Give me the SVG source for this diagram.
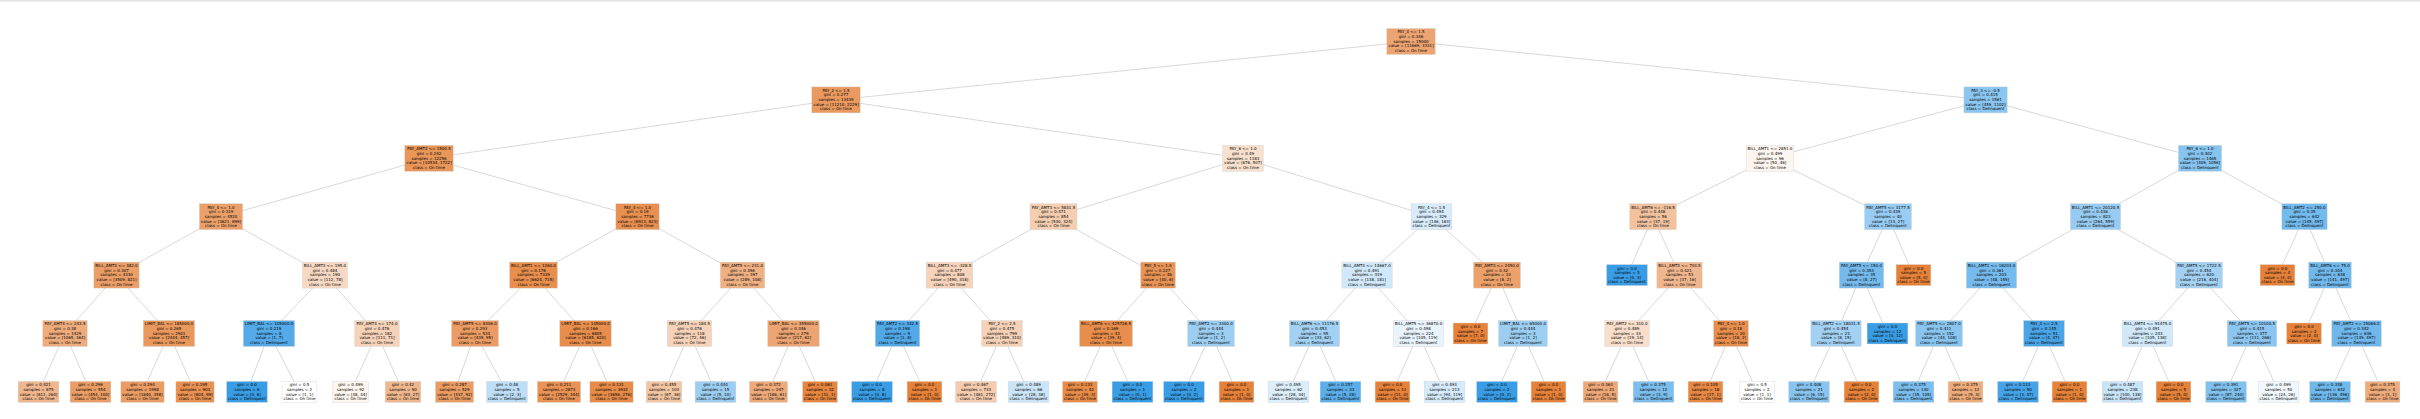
<svg xmlns="http://www.w3.org/2000/svg" width="2420" height="419" viewBox="0 0 2420 419">
<style>
text{font-family:"DejaVu Sans","Liberation Sans",sans-serif;font-size:4px;text-anchor:middle;fill:#000}
.nd rect{stroke:#d4d4d4;stroke-width:0.4}
#connectors line{stroke:#bdbdbd;stroke-width:0.6;fill:none}
</style>
<rect x="0" y="0" width="2420" height="419" fill="#ffffff"/>
<rect x="0" y="0" width="2420" height="1.5" fill="#e2e2e2"/>
<g id="connectors">
<line x1="1411" y1="41.5" x2="836" y2="99.9"/>
<line x1="1411" y1="41.5" x2="1985.5" y2="99.9"/>
<line x1="836" y1="99.9" x2="429" y2="158.3"/>
<line x1="836" y1="99.9" x2="1243" y2="158.3"/>
<line x1="1985.5" y1="99.9" x2="1770" y2="158.3"/>
<line x1="1985.5" y1="99.9" x2="2200" y2="158.3"/>
<line x1="429" y1="158.3" x2="221" y2="216.7"/>
<line x1="429" y1="158.3" x2="637.5" y2="216.7"/>
<line x1="1243" y1="158.3" x2="1053.5" y2="216.7"/>
<line x1="1243" y1="158.3" x2="1431.5" y2="216.7"/>
<line x1="1770" y1="158.3" x2="1653" y2="216.7"/>
<line x1="1770" y1="158.3" x2="1888" y2="216.7"/>
<line x1="2200" y1="158.3" x2="2095.5" y2="216.7"/>
<line x1="2200" y1="158.3" x2="2304.5" y2="216.7"/>
<line x1="221" y1="216.7" x2="116.5" y2="275.1"/>
<line x1="221" y1="216.7" x2="325" y2="275.1"/>
<line x1="637.5" y1="216.7" x2="533.5" y2="275.1"/>
<line x1="637.5" y1="216.7" x2="742.5" y2="275.1"/>
<line x1="1053.5" y1="216.7" x2="949.5" y2="275.1"/>
<line x1="1053.5" y1="216.7" x2="1158" y2="275.1"/>
<line x1="1431.5" y1="216.7" x2="1367" y2="275.1"/>
<line x1="1431.5" y1="216.7" x2="1497" y2="275.1"/>
<line x1="1653" y1="216.7" x2="1627" y2="275.1"/>
<line x1="1653" y1="216.7" x2="1679.5" y2="275.1"/>
<line x1="1888" y1="216.7" x2="1861.5" y2="275.1"/>
<line x1="1888" y1="216.7" x2="1913.5" y2="275.1"/>
<line x1="2095.5" y1="216.7" x2="1991.5" y2="275.1"/>
<line x1="2095.5" y1="216.7" x2="2199" y2="275.1"/>
<line x1="2304.5" y1="216.7" x2="2277.5" y2="275.1"/>
<line x1="2304.5" y1="216.7" x2="2330" y2="275.1"/>
<line x1="116.5" y1="275.1" x2="65" y2="333.5"/>
<line x1="116.5" y1="275.1" x2="169" y2="333.5"/>
<line x1="325" y1="275.1" x2="269" y2="333.5"/>
<line x1="325" y1="275.1" x2="377" y2="333.5"/>
<line x1="533.5" y1="275.1" x2="475" y2="333.5"/>
<line x1="533.5" y1="275.1" x2="585.5" y2="333.5"/>
<line x1="742.5" y1="275.1" x2="689.5" y2="333.5"/>
<line x1="742.5" y1="275.1" x2="793.5" y2="333.5"/>
<line x1="949.5" y1="275.1" x2="897.5" y2="333.5"/>
<line x1="949.5" y1="275.1" x2="1002" y2="333.5"/>
<line x1="1158" y1="275.1" x2="1106" y2="333.5"/>
<line x1="1158" y1="275.1" x2="1211" y2="333.5"/>
<line x1="1367" y1="275.1" x2="1314.5" y2="333.5"/>
<line x1="1367" y1="275.1" x2="1418.5" y2="333.5"/>
<line x1="1497" y1="275.1" x2="1470.5" y2="333.5"/>
<line x1="1497" y1="275.1" x2="1523" y2="333.5"/>
<line x1="1679.5" y1="275.1" x2="1627" y2="333.5"/>
<line x1="1679.5" y1="275.1" x2="1731" y2="333.5"/>
<line x1="1861.5" y1="275.1" x2="1836" y2="333.5"/>
<line x1="1861.5" y1="275.1" x2="1887.5" y2="333.5"/>
<line x1="1991.5" y1="275.1" x2="1939" y2="333.5"/>
<line x1="1991.5" y1="275.1" x2="2044" y2="333.5"/>
<line x1="2199" y1="275.1" x2="2147.5" y2="333.5"/>
<line x1="2199" y1="275.1" x2="2252" y2="333.5"/>
<line x1="2330" y1="275.1" x2="2304" y2="333.5"/>
<line x1="2330" y1="275.1" x2="2356.5" y2="333.5"/>
<line x1="65" y1="333.5" x2="38.5" y2="391.9"/>
<line x1="65" y1="333.5" x2="90.5" y2="391.9"/>
<line x1="169" y1="333.5" x2="142.5" y2="391.9"/>
<line x1="169" y1="333.5" x2="195" y2="391.9"/>
<line x1="269" y1="333.5" x2="247" y2="391.9"/>
<line x1="269" y1="333.5" x2="299.5" y2="391.9"/>
<line x1="377" y1="333.5" x2="350.5" y2="391.9"/>
<line x1="377" y1="333.5" x2="403" y2="391.9"/>
<line x1="475" y1="333.5" x2="454.5" y2="391.9"/>
<line x1="475" y1="333.5" x2="507" y2="391.9"/>
<line x1="585.5" y1="333.5" x2="559" y2="391.9"/>
<line x1="585.5" y1="333.5" x2="611.5" y2="391.9"/>
<line x1="689.5" y1="333.5" x2="664" y2="391.9"/>
<line x1="689.5" y1="333.5" x2="715.5" y2="391.9"/>
<line x1="793.5" y1="333.5" x2="768.5" y2="391.9"/>
<line x1="793.5" y1="333.5" x2="820" y2="391.9"/>
<line x1="897.5" y1="333.5" x2="872" y2="391.9"/>
<line x1="897.5" y1="333.5" x2="924.5" y2="391.9"/>
<line x1="1002" y1="333.5" x2="976" y2="391.9"/>
<line x1="1002" y1="333.5" x2="1028.5" y2="391.9"/>
<line x1="1106" y1="333.5" x2="1080" y2="391.9"/>
<line x1="1106" y1="333.5" x2="1132.5" y2="391.9"/>
<line x1="1211" y1="333.5" x2="1184" y2="391.9"/>
<line x1="1211" y1="333.5" x2="1236.5" y2="391.9"/>
<line x1="1314.5" y1="333.5" x2="1288.5" y2="391.9"/>
<line x1="1314.5" y1="333.5" x2="1340.5" y2="391.9"/>
<line x1="1418.5" y1="333.5" x2="1392.5" y2="391.9"/>
<line x1="1418.5" y1="333.5" x2="1444.5" y2="391.9"/>
<line x1="1523" y1="333.5" x2="1497" y2="391.9"/>
<line x1="1523" y1="333.5" x2="1548.5" y2="391.9"/>
<line x1="1627" y1="333.5" x2="1600.5" y2="391.9"/>
<line x1="1627" y1="333.5" x2="1653.5" y2="391.9"/>
<line x1="1731" y1="333.5" x2="1705.5" y2="391.9"/>
<line x1="1731" y1="333.5" x2="1757" y2="391.9"/>
<line x1="1836" y1="333.5" x2="1809" y2="391.9"/>
<line x1="1836" y1="333.5" x2="1861.5" y2="391.9"/>
<line x1="1939" y1="333.5" x2="1913.5" y2="391.9"/>
<line x1="1939" y1="333.5" x2="1965.5" y2="391.9"/>
<line x1="2044" y1="333.5" x2="2018" y2="391.9"/>
<line x1="2044" y1="333.5" x2="2069.5" y2="391.9"/>
<line x1="2147.5" y1="333.5" x2="2122.5" y2="391.9"/>
<line x1="2147.5" y1="333.5" x2="2173.5" y2="391.9"/>
<line x1="2252" y1="333.5" x2="2226" y2="391.9"/>
<line x1="2252" y1="333.5" x2="2278.5" y2="391.9"/>
<line x1="2356.5" y1="333.5" x2="2330" y2="391.9"/>
<line x1="2356.5" y1="333.5" x2="2382.5" y2="391.9"/>
</g>
<g id="n0" class="nd"><rect x="1386.8" y="28.5" width="48.4" height="26" fill="#eca572"/><text y="33.4"><tspan x="1411">PAY_0 &lt;= 1.5</tspan><tspan x="1411" dy="4.66">gini = 0.346</tspan><tspan x="1411" dy="4.66">samples = 15000</tspan><tspan x="1411" dy="4.66">value = [11669, 3331]</tspan><tspan x="1411" dy="4.66">class = On time</tspan></text></g>
<g id="n1" class="nd"><rect x="811.8" y="86.9" width="48.4" height="26" fill="#ea9a60"/><text y="91.8"><tspan x="836">PAY_2 &lt;= 1.5</tspan><tspan x="836" dy="4.66">gini = 0.277</tspan><tspan x="836" dy="4.66">samples = 13439</tspan><tspan x="836" dy="4.66">value = [11210, 2229]</tspan><tspan x="836" dy="4.66">class = On time</tspan></text></g>
<g id="n2" class="nd"><rect x="1963.9" y="86.9" width="43.3" height="26" fill="#8bc6f0"/><text y="91.8"><tspan x="1985.5">PAY_3 &lt;= -0.5</tspan><tspan x="1985.5" dy="4.66">gini = 0.415</tspan><tspan x="1985.5" dy="4.66">samples = 1561</tspan><tspan x="1985.5" dy="4.66">value = [459, 1102]</tspan><tspan x="1985.5" dy="4.66">class = Delinquent</tspan></text></g>
<g id="n3" class="nd"><rect x="404.8" y="145.3" width="48.4" height="26" fill="#e99659"/><text y="150.2"><tspan x="429">PAY_AMT2 &lt;= 1500.5</tspan><tspan x="429" dy="4.66">gini = 0.242</tspan><tspan x="429" dy="4.66">samples = 12256</tspan><tspan x="429" dy="4.66">value = [10534, 1722]</tspan><tspan x="429" dy="4.66">class = On time</tspan></text></g>
<g id="n4" class="nd"><rect x="1222.6" y="145.3" width="40.8" height="26" fill="#f8e0ce"/><text y="150.2"><tspan x="1243">PAY_6 &lt;= 1.0</tspan><tspan x="1243" dy="4.66">gini = 0.49</tspan><tspan x="1243" dy="4.66">samples = 1183</tspan><tspan x="1243" dy="4.66">value = [676, 507]</tspan><tspan x="1243" dy="4.66">class = On time</tspan></text></g>
<g id="n5" class="nd"><rect x="1746.1" y="145.3" width="47.8" height="26" fill="#fdf5ef"/><text y="150.2"><tspan x="1770">BILL_AMT1 &lt;= 2851.0</tspan><tspan x="1770" dy="4.66">gini = 0.499</tspan><tspan x="1770" dy="4.66">samples = 96</tspan><tspan x="1770" dy="4.66">value = [50, 46]</tspan><tspan x="1770" dy="4.66">class = On time</tspan></text></g>
<g id="n6" class="nd"><rect x="2178.4" y="145.3" width="43.3" height="26" fill="#86c3ef"/><text y="150.2"><tspan x="2200">PAY_6 &lt;= 1.0</tspan><tspan x="2200" dy="4.66">gini = 0.402</tspan><tspan x="2200" dy="4.66">samples = 1465</tspan><tspan x="2200" dy="4.66">value = [409, 1056]</tspan><tspan x="2200" dy="4.66">class = Delinquent</tspan></text></g>
<g id="n7" class="nd"><rect x="199.35" y="203.7" width="43.3" height="26" fill="#eba06a"/><text y="208.6"><tspan x="221">PAY_4 &lt;= 1.0</tspan><tspan x="221" dy="4.66">gini = 0.319</tspan><tspan x="221" dy="4.66">samples = 4520</tspan><tspan x="221" dy="4.66">value = [3621, 899]</tspan><tspan x="221" dy="4.66">class = On time</tspan></text></g>
<g id="n8" class="nd"><rect x="615.85" y="203.7" width="43.3" height="26" fill="#e89051"/><text y="208.6"><tspan x="637.5">PAY_4 &lt;= 1.0</tspan><tspan x="637.5" dy="4.66">gini = 0.19</tspan><tspan x="637.5" dy="4.66">samples = 7736</tspan><tspan x="637.5" dy="4.66">value = [6913, 823]</tspan><tspan x="637.5" dy="4.66">class = On time</tspan></text></g>
<g id="n9" class="nd"><rect x="1030" y="203.7" width="47" height="26" fill="#f5ceb2"/><text y="208.6"><tspan x="1053.5">PAY_AMT3 &lt;= 5831.5</tspan><tspan x="1053.5" dy="4.66">gini = 0.471</tspan><tspan x="1053.5" dy="4.66">samples = 854</tspan><tspan x="1053.5" dy="4.66">value = [530, 324]</tspan><tspan x="1053.5" dy="4.66">class = On time</tspan></text></g>
<g id="n10" class="nd"><rect x="1411.1" y="203.7" width="40.8" height="26" fill="#d7ebfa"/><text y="208.6"><tspan x="1431.5">PAY_4 &lt;= 1.5</tspan><tspan x="1431.5" dy="4.66">gini = 0.494</tspan><tspan x="1431.5" dy="4.66">samples = 329</tspan><tspan x="1431.5" dy="4.66">value = [146, 183]</tspan><tspan x="1431.5" dy="4.66">class = Delinquent</tspan></text></g>
<g id="n11" class="nd"><rect x="1629.65" y="203.7" width="46.7" height="26" fill="#f2c29f"/><text y="208.6"><tspan x="1653">BILL_AMT6 &lt;= -116.5</tspan><tspan x="1653" dy="4.66">gini = 0.448</tspan><tspan x="1653" dy="4.66">samples = 56</tspan><tspan x="1653" dy="4.66">value = [37, 19]</tspan><tspan x="1653" dy="4.66">class = On time</tspan></text></g>
<g id="n12" class="nd"><rect x="1864.5" y="203.7" width="47" height="26" fill="#98ccf2"/><text y="208.6"><tspan x="1888">PAY_AMT5 &lt;= 3177.5</tspan><tspan x="1888" dy="4.66">gini = 0.439</tspan><tspan x="1888" dy="4.66">samples = 40</tspan><tspan x="1888" dy="4.66">value = [13, 27]</tspan><tspan x="1888" dy="4.66">class = Delinquent</tspan></text></g>
<g id="n13" class="nd"><rect x="2070.35" y="203.7" width="50.3" height="26" fill="#97cbf1"/><text y="208.6"><tspan x="2095.5">BILL_AMT1 &lt;= 20120.5</tspan><tspan x="2095.5" dy="4.66">gini = 0.436</tspan><tspan x="2095.5" dy="4.66">samples = 823</tspan><tspan x="2095.5" dy="4.66">value = [264, 559]</tspan><tspan x="2095.5" dy="4.66">class = Delinquent</tspan></text></g>
<g id="n14" class="nd"><rect x="2281.85" y="203.7" width="45.3" height="26" fill="#73baed"/><text y="208.6"><tspan x="2304.5">BILL_AMT2 &lt;= 250.0</tspan><tspan x="2304.5" dy="4.66">gini = 0.35</tspan><tspan x="2304.5" dy="4.66">samples = 642</tspan><tspan x="2304.5" dy="4.66">value = [145, 497]</tspan><tspan x="2304.5" dy="4.66">class = Delinquent</tspan></text></g>
<g id="n15" class="nd"><rect x="93.85" y="262.1" width="45.3" height="26" fill="#eb9e67"/><text y="267"><tspan x="116.5">BILL_AMT3 &lt;= 482.0</tspan><tspan x="116.5" dy="4.66">gini = 0.307</tspan><tspan x="116.5" dy="4.66">samples = 4330</tspan><tspan x="116.5" dy="4.66">value = [3509, 821]</tspan><tspan x="116.5" dy="4.66">class = On time</tspan></text></g>
<g id="n16" class="nd"><rect x="302.35" y="262.1" width="45.3" height="26" fill="#f7d9c3"/><text y="267"><tspan x="325">BILL_AMT3 &lt;= 195.0</tspan><tspan x="325" dy="4.66">gini = 0.484</tspan><tspan x="325" dy="4.66">samples = 190</tspan><tspan x="325" dy="4.66">value = [112, 78]</tspan><tspan x="325" dy="4.66">class = On time</tspan></text></g>
<g id="n17" class="nd"><rect x="509.6" y="262.1" width="47.8" height="26" fill="#e88f4e"/><text y="267"><tspan x="533.5">BILL_AMT1 &lt;= 1260.0</tspan><tspan x="533.5" dy="4.66">gini = 0.176</tspan><tspan x="533.5" dy="4.66">samples = 7339</tspan><tspan x="533.5" dy="4.66">value = [6624, 715]</tspan><tspan x="533.5" dy="4.66">class = On time</tspan></text></g>
<g id="n18" class="nd"><rect x="720.25" y="262.1" width="44.5" height="26" fill="#efb083"/><text y="267"><tspan x="742.5">PAY_AMT5 &lt;= 231.0</tspan><tspan x="742.5" dy="4.66">gini = 0.396</tspan><tspan x="742.5" dy="4.66">samples = 397</tspan><tspan x="742.5" dy="4.66">value = [289, 108]</tspan><tspan x="742.5" dy="4.66">class = On time</tspan></text></g>
<g id="n19" class="nd"><rect x="926.15" y="262.1" width="46.7" height="26" fill="#f6d3ba"/><text y="267"><tspan x="949.5">BILL_AMT3 &lt;= -328.5</tspan><tspan x="949.5" dy="4.66">gini = 0.477</tspan><tspan x="949.5" dy="4.66">samples = 808</tspan><tspan x="949.5" dy="4.66">value = [490, 318]</tspan><tspan x="949.5" dy="4.66">class = On time</tspan></text></g>
<g id="n20" class="nd"><rect x="1140.6" y="262.1" width="34.8" height="26" fill="#e99457"/><text y="267"><tspan x="1158">PAY_5 &lt;= 1.0</tspan><tspan x="1158" dy="4.66">gini = 0.227</tspan><tspan x="1158" dy="4.66">samples = 46</tspan><tspan x="1158" dy="4.66">value = [40, 6]</tspan><tspan x="1158" dy="4.66">class = On time</tspan></text></g>
<g id="n21" class="nd"><rect x="1341.85" y="262.1" width="50.3" height="26" fill="#d0e8f9"/><text y="267"><tspan x="1367">BILL_AMT3 &lt;= 14667.0</tspan><tspan x="1367" dy="4.66">gini = 0.491</tspan><tspan x="1367" dy="4.66">samples = 319</tspan><tspan x="1367" dy="4.66">value = [138, 181]</tspan><tspan x="1367" dy="4.66">class = Delinquent</tspan></text></g>
<g id="n22" class="nd"><rect x="1473.5" y="262.1" width="47" height="26" fill="#eca06a"/><text y="267"><tspan x="1497">PAY_AMT3 &lt;= 2450.0</tspan><tspan x="1497" dy="4.66">gini = 0.32</tspan><tspan x="1497" dy="4.66">samples = 10</tspan><tspan x="1497" dy="4.66">value = [8, 2]</tspan><tspan x="1497" dy="4.66">class = On time</tspan></text></g>
<g id="n23" class="nd"><rect x="1606.6" y="264.6" width="40.8" height="21" fill="#399de5"/><text y="269.5"><tspan x="1627">gini = 0.0</tspan><tspan x="1627" dy="4.66">samples = 3</tspan><tspan x="1627" dy="4.66">value = [0, 3]</tspan><tspan x="1627" dy="4.66">class = Delinquent</tspan></text></g>
<g id="n24" class="nd"><rect x="1656.85" y="262.1" width="45.3" height="26" fill="#f0b78f"/><text y="267"><tspan x="1679.5">BILL_AMT3 &lt;= 703.5</tspan><tspan x="1679.5" dy="4.66">gini = 0.421</tspan><tspan x="1679.5" dy="4.66">samples = 53</tspan><tspan x="1679.5" dy="4.66">value = [37, 16]</tspan><tspan x="1679.5" dy="4.66">class = On time</tspan></text></g>
<g id="n25" class="nd"><rect x="1839.25" y="262.1" width="44.5" height="26" fill="#74baed"/><text y="267"><tspan x="1861.5">PAY_AMT5 &lt;= 150.0</tspan><tspan x="1861.5" dy="4.66">gini = 0.353</tspan><tspan x="1861.5" dy="4.66">samples = 35</tspan><tspan x="1861.5" dy="4.66">value = [8, 27]</tspan><tspan x="1861.5" dy="4.66">class = Delinquent</tspan></text></g>
<g id="n26" class="nd"><rect x="1896.1" y="264.6" width="34.8" height="21" fill="#e58139"/><text y="269.5"><tspan x="1913.5">gini = 0.0</tspan><tspan x="1913.5" dy="4.66">samples = 5</tspan><tspan x="1913.5" dy="4.66">value = [5, 0]</tspan><tspan x="1913.5" dy="4.66">class = On time</tspan></text></g>
<g id="n27" class="nd"><rect x="1966.35" y="262.1" width="50.3" height="26" fill="#76bbed"/><text y="267"><tspan x="1991.5">BILL_AMT1 &lt;= 18203.0</tspan><tspan x="1991.5" dy="4.66">gini = 0.361</tspan><tspan x="1991.5" dy="4.66">samples = 203</tspan><tspan x="1991.5" dy="4.66">value = [48, 155]</tspan><tspan x="1991.5" dy="4.66">class = Delinquent</tspan></text></g>
<g id="n28" class="nd"><rect x="2175.5" y="262.1" width="47" height="26" fill="#a3d1f3"/><text y="267"><tspan x="2199">PAY_AMT5 &lt;= 1722.5</tspan><tspan x="2199" dy="4.66">gini = 0.454</tspan><tspan x="2199" dy="4.66">samples = 620</tspan><tspan x="2199" dy="4.66">value = [216, 404]</tspan><tspan x="2199" dy="4.66">class = Delinquent</tspan></text></g>
<g id="n29" class="nd"><rect x="2260.1" y="264.6" width="34.8" height="21" fill="#e58139"/><text y="269.5"><tspan x="2277.5">gini = 0.0</tspan><tspan x="2277.5" dy="4.66">samples = 4</tspan><tspan x="2277.5" dy="4.66">value = [4, 0]</tspan><tspan x="2277.5" dy="4.66">class = On time</tspan></text></g>
<g id="n30" class="nd"><rect x="2308.65" y="262.1" width="42.7" height="26" fill="#71b9ec"/><text y="267"><tspan x="2330">BILL_AMT6 &lt;= 75.0</tspan><tspan x="2330" dy="4.66">gini = 0.344</tspan><tspan x="2330" dy="4.66">samples = 638</tspan><tspan x="2330" dy="4.66">value = [141, 497]</tspan><tspan x="2330" dy="4.66">class = Delinquent</tspan></text></g>
<g id="n31" class="nd"><rect x="42.75" y="320.5" width="44.5" height="26" fill="#eeac7d"/><text y="325.4"><tspan x="65">PAY_AMT4 &lt;= 243.5</tspan><tspan x="65" dy="4.66">gini = 0.38</tspan><tspan x="65" dy="4.66">samples = 1429</tspan><tspan x="65" dy="4.66">value = [1065, 364]</tspan><tspan x="65" dy="4.66">class = On time</tspan></text></g>
<g id="n32" class="nd"><rect x="143.25" y="320.5" width="51.5" height="26" fill="#ea995e"/><text y="325.4"><tspan x="169">LIMIT_BAL &lt;= 185000.0</tspan><tspan x="169" dy="4.66">gini = 0.265</tspan><tspan x="169" dy="4.66">samples = 2901</tspan><tspan x="169" dy="4.66">value = [2444, 457]</tspan><tspan x="169" dy="4.66">class = On time</tspan></text></g>
<g id="n33" class="nd"><rect x="243.25" y="320.5" width="51.5" height="26" fill="#55abe9"/><text y="325.4"><tspan x="269">LIMIT_BAL &lt;= 105000.0</tspan><tspan x="269" dy="4.66">gini = 0.219</tspan><tspan x="269" dy="4.66">samples = 8</tspan><tspan x="269" dy="4.66">value = [1, 7]</tspan><tspan x="269" dy="4.66">class = Delinquent</tspan></text></g>
<g id="n34" class="nd"><rect x="354.75" y="320.5" width="44.5" height="26" fill="#f6d2b8"/><text y="325.4"><tspan x="377">PAY_AMT4 &lt;= 174.0</tspan><tspan x="377" dy="4.66">gini = 0.476</tspan><tspan x="377" dy="4.66">samples = 182</tspan><tspan x="377" dy="4.66">value = [111, 71]</tspan><tspan x="377" dy="4.66">class = On time</tspan></text></g>
<g id="n35" class="nd"><rect x="451.5" y="320.5" width="47" height="26" fill="#eb9c64"/><text y="325.4"><tspan x="475">PAY_AMT5 &lt;= 8306.0</tspan><tspan x="475" dy="4.66">gini = 0.293</tspan><tspan x="475" dy="4.66">samples = 534</tspan><tspan x="475" dy="4.66">value = [439, 95]</tspan><tspan x="475" dy="4.66">class = On time</tspan></text></g>
<g id="n36" class="nd"><rect x="559.75" y="320.5" width="51.5" height="26" fill="#e88e4d"/><text y="325.4"><tspan x="585.5">LIMIT_BAL &lt;= 145000.0</tspan><tspan x="585.5" dy="4.66">gini = 0.166</tspan><tspan x="585.5" dy="4.66">samples = 6805</tspan><tspan x="585.5" dy="4.66">value = [6185, 620]</tspan><tspan x="585.5" dy="4.66">class = On time</tspan></text></g>
<g id="n37" class="nd"><rect x="667.25" y="320.5" width="44.5" height="26" fill="#f6d2b8"/><text y="325.4"><tspan x="689.5">PAY_AMT5 &lt;= 184.5</tspan><tspan x="689.5" dy="4.66">gini = 0.476</tspan><tspan x="689.5" dy="4.66">samples = 118</tspan><tspan x="689.5" dy="4.66">value = [72, 46]</tspan><tspan x="689.5" dy="4.66">class = On time</tspan></text></g>
<g id="n38" class="nd"><rect x="767.75" y="320.5" width="51.5" height="26" fill="#eca572"/><text y="325.4"><tspan x="793.5">LIMIT_BAL &lt;= 355000.0</tspan><tspan x="793.5" dy="4.66">gini = 0.346</tspan><tspan x="793.5" dy="4.66">samples = 279</tspan><tspan x="793.5" dy="4.66">value = [217, 62]</tspan><tspan x="793.5" dy="4.66">class = On time</tspan></text></g>
<g id="n39" class="nd"><rect x="875.25" y="320.5" width="44.5" height="26" fill="#52a9e8"/><text y="325.4"><tspan x="897.5">PAY_AMT2 &lt;= 332.5</tspan><tspan x="897.5" dy="4.66">gini = 0.198</tspan><tspan x="897.5" dy="4.66">samples = 9</tspan><tspan x="897.5" dy="4.66">value = [1, 8]</tspan><tspan x="897.5" dy="4.66">class = Delinquent</tspan></text></g>
<g id="n40" class="nd"><rect x="981.6" y="320.5" width="40.8" height="26" fill="#f5d1b7"/><text y="325.4"><tspan x="1002">PAY_2 &lt;= 2.5</tspan><tspan x="1002" dy="4.66">gini = 0.475</tspan><tspan x="1002" dy="4.66">samples = 799</tspan><tspan x="1002" dy="4.66">value = [489, 310]</tspan><tspan x="1002" dy="4.66">class = On time</tspan></text></g>
<g id="n41" class="nd"><rect x="1079.55" y="320.5" width="52.9" height="26" fill="#e88e4d"/><text y="325.4"><tspan x="1106">BILL_AMT6 &lt;= 425726.5</tspan><tspan x="1106" dy="4.66">gini = 0.169</tspan><tspan x="1106" dy="4.66">samples = 43</tspan><tspan x="1106" dy="4.66">value = [39, 4]</tspan><tspan x="1106" dy="4.66">class = On time</tspan></text></g>
<g id="n42" class="nd"><rect x="1187.5" y="320.5" width="47" height="26" fill="#9ccef2"/><text y="325.4"><tspan x="1211">PAY_AMT2 &lt;= 3300.0</tspan><tspan x="1211" dy="4.66">gini = 0.444</tspan><tspan x="1211" dy="4.66">samples = 3</tspan><tspan x="1211" dy="4.66">value = [1, 2]</tspan><tspan x="1211" dy="4.66">class = Delinquent</tspan></text></g>
<g id="n43" class="nd"><rect x="1289.35" y="320.5" width="50.3" height="26" fill="#a2d1f3"/><text y="325.4"><tspan x="1314.5">BILL_AMT6 &lt;= 11176.5</tspan><tspan x="1314.5" dy="4.66">gini = 0.453</tspan><tspan x="1314.5" dy="4.66">samples = 95</tspan><tspan x="1314.5" dy="4.66">value = [33, 62]</tspan><tspan x="1314.5" dy="4.66">class = Delinquent</tspan></text></g>
<g id="n44" class="nd"><rect x="1393.35" y="320.5" width="50.3" height="26" fill="#e8f3fc"/><text y="325.4"><tspan x="1418.5">BILL_AMT5 &lt;= 36870.0</tspan><tspan x="1418.5" dy="4.66">gini = 0.498</tspan><tspan x="1418.5" dy="4.66">samples = 224</tspan><tspan x="1418.5" dy="4.66">value = [105, 119]</tspan><tspan x="1418.5" dy="4.66">class = Delinquent</tspan></text></g>
<g id="n45" class="nd"><rect x="1453.1" y="323" width="34.8" height="21" fill="#e58139"/><text y="327.9"><tspan x="1470.5">gini = 0.0</tspan><tspan x="1470.5" dy="4.66">samples = 7</tspan><tspan x="1470.5" dy="4.66">value = [7, 0]</tspan><tspan x="1470.5" dy="4.66">class = On time</tspan></text></g>
<g id="n46" class="nd"><rect x="1498.5" y="320.5" width="49" height="26" fill="#9ccef2"/><text y="325.4"><tspan x="1523">LIMIT_BAL &lt;= 65000.0</tspan><tspan x="1523" dy="4.66">gini = 0.444</tspan><tspan x="1523" dy="4.66">samples = 3</tspan><tspan x="1523" dy="4.66">value = [1, 2]</tspan><tspan x="1523" dy="4.66">class = Delinquent</tspan></text></g>
<g id="n47" class="nd"><rect x="1604.75" y="320.5" width="44.5" height="26" fill="#f8decb"/><text y="325.4"><tspan x="1627">PAY_AMT2 &lt;= 310.0</tspan><tspan x="1627" dy="4.66">gini = 0.489</tspan><tspan x="1627" dy="4.66">samples = 33</tspan><tspan x="1627" dy="4.66">value = [19, 14]</tspan><tspan x="1627" dy="4.66">class = On time</tspan></text></g>
<g id="n48" class="nd"><rect x="1713.6" y="320.5" width="34.8" height="26" fill="#e88f4f"/><text y="325.4"><tspan x="1731">PAY_4 &lt;= 1.0</tspan><tspan x="1731" dy="4.66">gini = 0.18</tspan><tspan x="1731" dy="4.66">samples = 20</tspan><tspan x="1731" dy="4.66">value = [18, 2]</tspan><tspan x="1731" dy="4.66">class = On time</tspan></text></g>
<g id="n49" class="nd"><rect x="1810.85" y="320.5" width="50.3" height="26" fill="#a3d1f3"/><text y="325.4"><tspan x="1836">BILL_AMT2 &lt;= 18031.5</tspan><tspan x="1836" dy="4.66">gini = 0.454</tspan><tspan x="1836" dy="4.66">samples = 23</tspan><tspan x="1836" dy="4.66">value = [8, 15]</tspan><tspan x="1836" dy="4.66">class = Delinquent</tspan></text></g>
<g id="n50" class="nd"><rect x="1867.1" y="323" width="40.8" height="21" fill="#399de5"/><text y="327.9"><tspan x="1887.5">gini = 0.0</tspan><tspan x="1887.5" dy="4.66">samples = 12</tspan><tspan x="1887.5" dy="4.66">value = [0, 12]</tspan><tspan x="1887.5" dy="4.66">class = Delinquent</tspan></text></g>
<g id="n51" class="nd"><rect x="1915.5" y="320.5" width="47" height="26" fill="#8ac5f0"/><text y="325.4"><tspan x="1939">PAY_AMT5 &lt;= 2807.0</tspan><tspan x="1939" dy="4.66">gini = 0.411</tspan><tspan x="1939" dy="4.66">samples = 152</tspan><tspan x="1939" dy="4.66">value = [44, 108]</tspan><tspan x="1939" dy="4.66">class = Delinquent</tspan></text></g>
<g id="n52" class="nd"><rect x="2023.6" y="320.5" width="40.8" height="26" fill="#4aa5e7"/><text y="325.4"><tspan x="2044">PAY_3 &lt;= 2.5</tspan><tspan x="2044" dy="4.66">gini = 0.145</tspan><tspan x="2044" dy="4.66">samples = 51</tspan><tspan x="2044" dy="4.66">value = [4, 47]</tspan><tspan x="2044" dy="4.66">class = Delinquent</tspan></text></g>
<g id="n53" class="nd"><rect x="2122.35" y="320.5" width="50.3" height="26" fill="#d0e8f9"/><text y="325.4"><tspan x="2147.5">BILL_AMT4 &lt;= 91475.0</tspan><tspan x="2147.5" dy="4.66">gini = 0.491</tspan><tspan x="2147.5" dy="4.66">samples = 243</tspan><tspan x="2147.5" dy="4.66">value = [105, 138]</tspan><tspan x="2147.5" dy="4.66">class = Delinquent</tspan></text></g>
<g id="n54" class="nd"><rect x="2227.2" y="320.5" width="49.6" height="26" fill="#8cc6f0"/><text y="325.4"><tspan x="2252">PAY_AMT5 &lt;= 10100.5</tspan><tspan x="2252" dy="4.66">gini = 0.415</tspan><tspan x="2252" dy="4.66">samples = 377</tspan><tspan x="2252" dy="4.66">value = [111, 266]</tspan><tspan x="2252" dy="4.66">class = Delinquent</tspan></text></g>
<g id="n55" class="nd"><rect x="2286.6" y="323" width="34.8" height="21" fill="#e58139"/><text y="327.9"><tspan x="2304">gini = 0.0</tspan><tspan x="2304" dy="4.66">samples = 2</tspan><tspan x="2304" dy="4.66">value = [2, 0]</tspan><tspan x="2304" dy="4.66">class = On time</tspan></text></g>
<g id="n56" class="nd"><rect x="2331.7" y="320.5" width="49.6" height="26" fill="#70b8ec"/><text y="325.4"><tspan x="2356.5">PAY_AMT2 &lt;= 15066.0</tspan><tspan x="2356.5" dy="4.66">gini = 0.342</tspan><tspan x="2356.5" dy="4.66">samples = 636</tspan><tspan x="2356.5" dy="4.66">value = [139, 497]</tspan><tspan x="2356.5" dy="4.66">class = Delinquent</tspan></text></g>
<g id="l1" class="nd"><rect x="18.1" y="381.4" width="40.8" height="21" fill="#f0b78f"/><text y="386.3"><tspan x="38.5">gini = 0.421</tspan><tspan x="38.5" dy="4.66">samples = 875</tspan><tspan x="38.5" dy="4.66">value = [611, 264]</tspan><tspan x="38.5" dy="4.66">class = On time</tspan></text></g>
<g id="l2" class="nd"><rect x="70.1" y="381.4" width="40.8" height="21" fill="#eb9d65"/><text y="386.3"><tspan x="90.5">gini = 0.296</tspan><tspan x="90.5" dy="4.66">samples = 554</tspan><tspan x="90.5" dy="4.66">value = [454, 100]</tspan><tspan x="90.5" dy="4.66">class = On time</tspan></text></g>
<g id="l3" class="nd"><rect x="120.85" y="381.4" width="43.3" height="21" fill="#eb9c64"/><text y="386.3"><tspan x="142.5">gini = 0.294</tspan><tspan x="142.5" dy="4.66">samples = 1998</tspan><tspan x="142.5" dy="4.66">value = [1640, 358]</tspan><tspan x="142.5" dy="4.66">class = On time</tspan></text></g>
<g id="l4" class="nd"><rect x="175.9" y="381.4" width="38.2" height="21" fill="#e89151"/><text y="386.3"><tspan x="195">gini = 0.195</tspan><tspan x="195" dy="4.66">samples = 903</tspan><tspan x="195" dy="4.66">value = [804, 99]</tspan><tspan x="195" dy="4.66">class = On time</tspan></text></g>
<g id="l5" class="nd"><rect x="226.6" y="381.4" width="40.8" height="21" fill="#399de5"/><text y="386.3"><tspan x="247">gini = 0.0</tspan><tspan x="247" dy="4.66">samples = 6</tspan><tspan x="247" dy="4.66">value = [0, 6]</tspan><tspan x="247" dy="4.66">class = Delinquent</tspan></text></g>
<g id="l6" class="nd"><rect x="282.1" y="381.4" width="34.8" height="21" fill="#ffffff"/><text y="386.3"><tspan x="299.5">gini = 0.5</tspan><tspan x="299.5" dy="4.66">samples = 2</tspan><tspan x="299.5" dy="4.66">value = [1, 1]</tspan><tspan x="299.5" dy="4.66">class = On time</tspan></text></g>
<g id="l7" class="nd"><rect x="332.65" y="381.4" width="35.7" height="21" fill="#fdf5ee"/><text y="386.3"><tspan x="350.5">gini = 0.499</tspan><tspan x="350.5" dy="4.66">samples = 92</tspan><tspan x="350.5" dy="4.66">value = [48, 44]</tspan><tspan x="350.5" dy="4.66">class = On time</tspan></text></g>
<g id="l8" class="nd"><rect x="385.15" y="381.4" width="35.7" height="21" fill="#f0b78e"/><text y="386.3"><tspan x="403">gini = 0.42</tspan><tspan x="403" dy="4.66">samples = 90</tspan><tspan x="403" dy="4.66">value = [63, 27]</tspan><tspan x="403" dy="4.66">class = On time</tspan></text></g>
<g id="l9" class="nd"><rect x="435.4" y="381.4" width="38.2" height="21" fill="#ea9c63"/><text y="386.3"><tspan x="454.5">gini = 0.287</tspan><tspan x="454.5" dy="4.66">samples = 529</tspan><tspan x="454.5" dy="4.66">value = [437, 92]</tspan><tspan x="454.5" dy="4.66">class = On time</tspan></text></g>
<g id="l10" class="nd"><rect x="486.6" y="381.4" width="40.8" height="21" fill="#bddef6"/><text y="386.3"><tspan x="507">gini = 0.48</tspan><tspan x="507" dy="4.66">samples = 5</tspan><tspan x="507" dy="4.66">value = [2, 3]</tspan><tspan x="507" dy="4.66">class = Delinquent</tspan></text></g>
<g id="l11" class="nd"><rect x="537.35" y="381.4" width="43.3" height="21" fill="#e99254"/><text y="386.3"><tspan x="559">gini = 0.211</tspan><tspan x="559" dy="4.66">samples = 2873</tspan><tspan x="559" dy="4.66">value = [2529, 344]</tspan><tspan x="559" dy="4.66">class = On time</tspan></text></g>
<g id="l12" class="nd"><rect x="589.85" y="381.4" width="43.3" height="21" fill="#e78b48"/><text y="386.3"><tspan x="611.5">gini = 0.131</tspan><tspan x="611.5" dy="4.66">samples = 3932</tspan><tspan x="611.5" dy="4.66">value = [3656, 276]</tspan><tspan x="611.5" dy="4.66">class = On time</tspan></text></g>
<g id="l13" class="nd"><rect x="646.15" y="381.4" width="35.7" height="21" fill="#f3c5a3"/><text y="386.3"><tspan x="664">gini = 0.455</tspan><tspan x="664" dy="4.66">samples = 103</tspan><tspan x="664" dy="4.66">value = [67, 36]</tspan><tspan x="664" dy="4.66">class = On time</tspan></text></g>
<g id="l14" class="nd"><rect x="695.1" y="381.4" width="40.8" height="21" fill="#9ccef2"/><text y="386.3"><tspan x="715.5">gini = 0.444</tspan><tspan x="715.5" dy="4.66">samples = 15</tspan><tspan x="715.5" dy="4.66">value = [5, 10]</tspan><tspan x="715.5" dy="4.66">class = Delinquent</tspan></text></g>
<g id="l15" class="nd"><rect x="749.4" y="381.4" width="38.2" height="21" fill="#eeaa7a"/><text y="386.3"><tspan x="768.5">gini = 0.372</tspan><tspan x="768.5" dy="4.66">samples = 247</tspan><tspan x="768.5" dy="4.66">value = [186, 61]</tspan><tspan x="768.5" dy="4.66">class = On time</tspan></text></g>
<g id="l16" class="nd"><rect x="802.6" y="381.4" width="34.8" height="21" fill="#e6853f"/><text y="386.3"><tspan x="820">gini = 0.061</tspan><tspan x="820" dy="4.66">samples = 32</tspan><tspan x="820" dy="4.66">value = [31, 1]</tspan><tspan x="820" dy="4.66">class = On time</tspan></text></g>
<g id="l17" class="nd"><rect x="851.6" y="381.4" width="40.8" height="21" fill="#399de5"/><text y="386.3"><tspan x="872">gini = 0.0</tspan><tspan x="872" dy="4.66">samples = 8</tspan><tspan x="872" dy="4.66">value = [0, 8]</tspan><tspan x="872" dy="4.66">class = Delinquent</tspan></text></g>
<g id="l18" class="nd"><rect x="907.1" y="381.4" width="34.8" height="21" fill="#e58139"/><text y="386.3"><tspan x="924.5">gini = 0.0</tspan><tspan x="924.5" dy="4.66">samples = 1</tspan><tspan x="924.5" dy="4.66">value = [1, 0]</tspan><tspan x="924.5" dy="4.66">class = On time</tspan></text></g>
<g id="l19" class="nd"><rect x="955.6" y="381.4" width="40.8" height="21" fill="#f4cbae"/><text y="386.3"><tspan x="976">gini = 0.467</tspan><tspan x="976" dy="4.66">samples = 733</tspan><tspan x="976" dy="4.66">value = [461, 272]</tspan><tspan x="976" dy="4.66">class = On time</tspan></text></g>
<g id="l20" class="nd"><rect x="1008.1" y="381.4" width="40.8" height="21" fill="#cbe5f8"/><text y="386.3"><tspan x="1028.5">gini = 0.489</tspan><tspan x="1028.5" dy="4.66">samples = 66</tspan><tspan x="1028.5" dy="4.66">value = [28, 38]</tspan><tspan x="1028.5" dy="4.66">class = Delinquent</tspan></text></g>
<g id="l21" class="nd"><rect x="1062.6" y="381.4" width="34.8" height="21" fill="#e78b48"/><text y="386.3"><tspan x="1080">gini = 0.133</tspan><tspan x="1080" dy="4.66">samples = 42</tspan><tspan x="1080" dy="4.66">value = [39, 3]</tspan><tspan x="1080" dy="4.66">class = On time</tspan></text></g>
<g id="l22" class="nd"><rect x="1112.1" y="381.4" width="40.8" height="21" fill="#399de5"/><text y="386.3"><tspan x="1132.5">gini = 0.0</tspan><tspan x="1132.5" dy="4.66">samples = 1</tspan><tspan x="1132.5" dy="4.66">value = [0, 1]</tspan><tspan x="1132.5" dy="4.66">class = Delinquent</tspan></text></g>
<g id="l23" class="nd"><rect x="1163.6" y="381.4" width="40.8" height="21" fill="#399de5"/><text y="386.3"><tspan x="1184">gini = 0.0</tspan><tspan x="1184" dy="4.66">samples = 2</tspan><tspan x="1184" dy="4.66">value = [0, 2]</tspan><tspan x="1184" dy="4.66">class = Delinquent</tspan></text></g>
<g id="l24" class="nd"><rect x="1219.1" y="381.4" width="34.8" height="21" fill="#e58139"/><text y="386.3"><tspan x="1236.5">gini = 0.0</tspan><tspan x="1236.5" dy="4.66">samples = 1</tspan><tspan x="1236.5" dy="4.66">value = [1, 0]</tspan><tspan x="1236.5" dy="4.66">class = On time</tspan></text></g>
<g id="l25" class="nd"><rect x="1268.1" y="381.4" width="40.8" height="21" fill="#dceefa"/><text y="386.3"><tspan x="1288.5">gini = 0.495</tspan><tspan x="1288.5" dy="4.66">samples = 62</tspan><tspan x="1288.5" dy="4.66">value = [28, 34]</tspan><tspan x="1288.5" dy="4.66">class = Delinquent</tspan></text></g>
<g id="l26" class="nd"><rect x="1320.1" y="381.4" width="40.8" height="21" fill="#5caeea"/><text y="386.3"><tspan x="1340.5">gini = 0.257</tspan><tspan x="1340.5" dy="4.66">samples = 33</tspan><tspan x="1340.5" dy="4.66">value = [5, 28]</tspan><tspan x="1340.5" dy="4.66">class = Delinquent</tspan></text></g>
<g id="l27" class="nd"><rect x="1375.1" y="381.4" width="34.8" height="21" fill="#e58139"/><text y="386.3"><tspan x="1392.5">gini = 0.0</tspan><tspan x="1392.5" dy="4.66">samples = 11</tspan><tspan x="1392.5" dy="4.66">value = [11, 0]</tspan><tspan x="1392.5" dy="4.66">class = On time</tspan></text></g>
<g id="l28" class="nd"><rect x="1424.1" y="381.4" width="40.8" height="21" fill="#d5eafa"/><text y="386.3"><tspan x="1444.5">gini = 0.493</tspan><tspan x="1444.5" dy="4.66">samples = 213</tspan><tspan x="1444.5" dy="4.66">value = [94, 119]</tspan><tspan x="1444.5" dy="4.66">class = Delinquent</tspan></text></g>
<g id="l29" class="nd"><rect x="1476.6" y="381.4" width="40.8" height="21" fill="#399de5"/><text y="386.3"><tspan x="1497">gini = 0.0</tspan><tspan x="1497" dy="4.66">samples = 2</tspan><tspan x="1497" dy="4.66">value = [0, 2]</tspan><tspan x="1497" dy="4.66">class = Delinquent</tspan></text></g>
<g id="l30" class="nd"><rect x="1531.1" y="381.4" width="34.8" height="21" fill="#e58139"/><text y="386.3"><tspan x="1548.5">gini = 0.0</tspan><tspan x="1548.5" dy="4.66">samples = 1</tspan><tspan x="1548.5" dy="4.66">value = [1, 0]</tspan><tspan x="1548.5" dy="4.66">class = On time</tspan></text></g>
<g id="l31" class="nd"><rect x="1583.1" y="381.4" width="34.8" height="21" fill="#eda877"/><text y="386.3"><tspan x="1600.5">gini = 0.363</tspan><tspan x="1600.5" dy="4.66">samples = 21</tspan><tspan x="1600.5" dy="4.66">value = [16, 5]</tspan><tspan x="1600.5" dy="4.66">class = On time</tspan></text></g>
<g id="l32" class="nd"><rect x="1633.1" y="381.4" width="40.8" height="21" fill="#7bbeee"/><text y="386.3"><tspan x="1653.5">gini = 0.375</tspan><tspan x="1653.5" dy="4.66">samples = 12</tspan><tspan x="1653.5" dy="4.66">value = [3, 9]</tspan><tspan x="1653.5" dy="4.66">class = Delinquent</tspan></text></g>
<g id="l33" class="nd"><rect x="1688.1" y="381.4" width="34.8" height="21" fill="#e78845"/><text y="386.3"><tspan x="1705.5">gini = 0.105</tspan><tspan x="1705.5" dy="4.66">samples = 18</tspan><tspan x="1705.5" dy="4.66">value = [17, 1]</tspan><tspan x="1705.5" dy="4.66">class = On time</tspan></text></g>
<g id="l34" class="nd"><rect x="1739.6" y="381.4" width="34.8" height="21" fill="#ffffff"/><text y="386.3"><tspan x="1757">gini = 0.5</tspan><tspan x="1757" dy="4.66">samples = 2</tspan><tspan x="1757" dy="4.66">value = [1, 1]</tspan><tspan x="1757" dy="4.66">class = On time</tspan></text></g>
<g id="l35" class="nd"><rect x="1788.6" y="381.4" width="40.8" height="21" fill="#88c4ef"/><text y="386.3"><tspan x="1809">gini = 0.408</tspan><tspan x="1809" dy="4.66">samples = 21</tspan><tspan x="1809" dy="4.66">value = [6, 15]</tspan><tspan x="1809" dy="4.66">class = Delinquent</tspan></text></g>
<g id="l36" class="nd"><rect x="1844.1" y="381.4" width="34.8" height="21" fill="#e58139"/><text y="386.3"><tspan x="1861.5">gini = 0.0</tspan><tspan x="1861.5" dy="4.66">samples = 2</tspan><tspan x="1861.5" dy="4.66">value = [2, 0]</tspan><tspan x="1861.5" dy="4.66">class = On time</tspan></text></g>
<g id="l37" class="nd"><rect x="1893.1" y="381.4" width="40.8" height="21" fill="#7bbeee"/><text y="386.3"><tspan x="1913.5">gini = 0.375</tspan><tspan x="1913.5" dy="4.66">samples = 140</tspan><tspan x="1913.5" dy="4.66">value = [35, 105]</tspan><tspan x="1913.5" dy="4.66">class = Delinquent</tspan></text></g>
<g id="l38" class="nd"><rect x="1948.1" y="381.4" width="34.8" height="21" fill="#eeab7b"/><text y="386.3"><tspan x="1965.5">gini = 0.375</tspan><tspan x="1965.5" dy="4.66">samples = 12</tspan><tspan x="1965.5" dy="4.66">value = [9, 3]</tspan><tspan x="1965.5" dy="4.66">class = On time</tspan></text></g>
<g id="l39" class="nd"><rect x="1997.6" y="381.4" width="40.8" height="21" fill="#46a3e7"/><text y="386.3"><tspan x="2018">gini = 0.113</tspan><tspan x="2018" dy="4.66">samples = 50</tspan><tspan x="2018" dy="4.66">value = [3, 47]</tspan><tspan x="2018" dy="4.66">class = Delinquent</tspan></text></g>
<g id="l40" class="nd"><rect x="2052.1" y="381.4" width="34.8" height="21" fill="#e58139"/><text y="386.3"><tspan x="2069.5">gini = 0.0</tspan><tspan x="2069.5" dy="4.66">samples = 1</tspan><tspan x="2069.5" dy="4.66">value = [1, 0]</tspan><tspan x="2069.5" dy="4.66">class = On time</tspan></text></g>
<g id="l41" class="nd"><rect x="2102.1" y="381.4" width="40.8" height="21" fill="#c8e4f8"/><text y="386.3"><tspan x="2122.5">gini = 0.487</tspan><tspan x="2122.5" dy="4.66">samples = 238</tspan><tspan x="2122.5" dy="4.66">value = [100, 138]</tspan><tspan x="2122.5" dy="4.66">class = Delinquent</tspan></text></g>
<g id="l42" class="nd"><rect x="2156.1" y="381.4" width="34.8" height="21" fill="#e58139"/><text y="386.3"><tspan x="2173.5">gini = 0.0</tspan><tspan x="2173.5" dy="4.66">samples = 5</tspan><tspan x="2173.5" dy="4.66">value = [5, 0]</tspan><tspan x="2173.5" dy="4.66">class = On time</tspan></text></g>
<g id="l43" class="nd"><rect x="2205.6" y="381.4" width="40.8" height="21" fill="#81c1ee"/><text y="386.3"><tspan x="2226">gini = 0.391</tspan><tspan x="2226" dy="4.66">samples = 327</tspan><tspan x="2226" dy="4.66">value = [87, 240]</tspan><tspan x="2226" dy="4.66">class = Delinquent</tspan></text></g>
<g id="l44" class="nd"><rect x="2258.1" y="381.4" width="40.8" height="21" fill="#f0f7fd"/><text y="386.3"><tspan x="2278.5">gini = 0.499</tspan><tspan x="2278.5" dy="4.66">samples = 50</tspan><tspan x="2278.5" dy="4.66">value = [24, 26]</tspan><tspan x="2278.5" dy="4.66">class = Delinquent</tspan></text></g>
<g id="l45" class="nd"><rect x="2309.6" y="381.4" width="40.8" height="21" fill="#6fb8ec"/><text y="386.3"><tspan x="2330">gini = 0.338</tspan><tspan x="2330" dy="4.66">samples = 632</tspan><tspan x="2330" dy="4.66">value = [136, 496]</tspan><tspan x="2330" dy="4.66">class = Delinquent</tspan></text></g>
<g id="l46" class="nd"><rect x="2365.1" y="381.4" width="34.8" height="21" fill="#eeab7b"/><text y="386.3"><tspan x="2382.5">gini = 0.375</tspan><tspan x="2382.5" dy="4.66">samples = 4</tspan><tspan x="2382.5" dy="4.66">value = [3, 1]</tspan><tspan x="2382.5" dy="4.66">class = On time</tspan></text></g>
</svg>
